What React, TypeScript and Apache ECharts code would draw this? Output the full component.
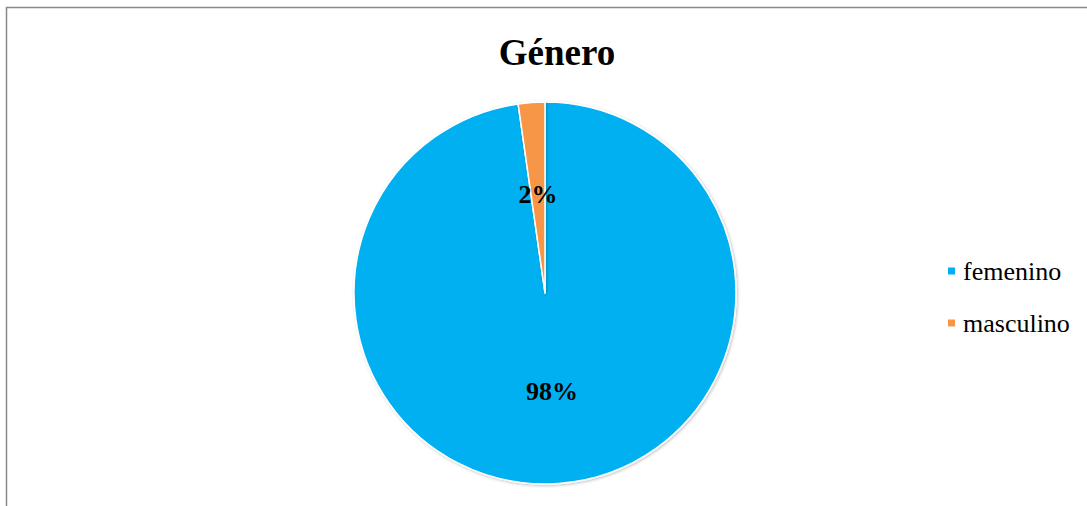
import React, { useEffect, useRef } from "react";
import * as echarts from "echarts";

const categories = ["femenino", "masculino"];
const values = [87, 2];
const colors = ["#00B0F0", "#F79646"];
const titleText = "Género";

export default function App() {
  const ref = useRef<HTMLDivElement>(null);
  useEffect(() => {
    if (!ref.current) return;
    const chart = echarts.init(ref.current, null, { renderer: "svg" });
    const total = values.reduce((a, b) => a + b, 0);
    chart.setOption({
      animation: false,
      backgroundColor: "#ffffff",
      title: {
        text: titleText,
        left: 552,
        textAlign: "center",
        top: 29,
        textStyle: {
          fontFamily: "Liberation Serif",
          fontWeight: "bold",
          fontSize: 37,
          color: "#000",
        },
      },
      graphic: [
        {
          type: "rect",
          shape: { x: 6.5, y: 7.5, width: 1120, height: 540 },
          style: { fill: "none", stroke: "#898989", lineWidth: 1.5 },
          silent: true,
        },
      ],
      legend: {
        orient: "vertical",
        left: 941,
        top: 253,
        itemWidth: 9,
        itemHeight: 9,
        itemGap: 26,
        icon: "rect",
        data: categories,
        textStyle: {
          fontFamily: "Liberation Serif",
          fontSize: 26,
          color: "#000",
          padding: [0, 0, 0, 2],
        },
      },
      series: [
        {
          type: "pie",
          center: [545, 293],
          radius: 191,
          startAngle: 90,
          clockwise: true,
          label: {
            show: true,
            position: "inside",
            fontFamily: "Liberation Serif",
            fontWeight: "bold",
            fontSize: 26,
            color: "#000",
            formatter: (p: any) => Math.round((p.value / total) * 100) + "%",
          },
          labelLine: { show: false },
          itemStyle: {
            borderColor: "#ffffff",
            borderWidth: 1.5,
            shadowBlur: 3,
            shadowColor: "rgba(0,0,0,0.25)",
            shadowOffsetX: 1,
            shadowOffsetY: 1,
          },
          emphasis: { disabled: true },
          data: categories.map((c, i) => ({
            name: c,
            value: values[i],
            itemStyle: { color: colors[i] },
          })),
        },
      ],
    });
    return () => chart.dispose();
  }, []);
  return (
    <div
      ref={ref}
      style={{ position: "fixed", left: 0, top: 0, width: 1087, height: 506 }}
    />
  );
}
